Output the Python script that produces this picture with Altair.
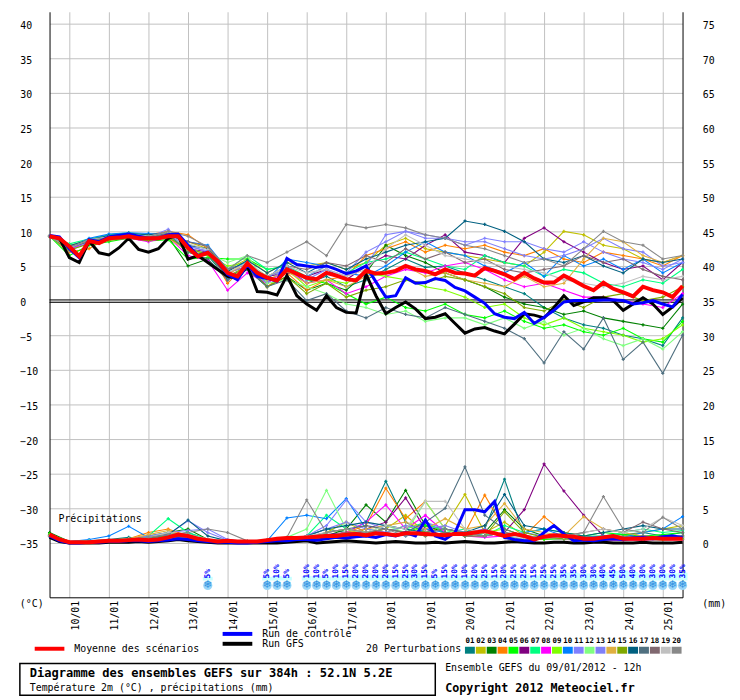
import altair as alt
import pandas as pd

FONT = "DejaVu Sans Mono"

# time axis (hours after 09/01/2012 12h)
hours6 = list(range(0, 385, 6))
hours12 = list(range(0, 385, 12))
day_ticks = [12, 36, 60, 84, 108, 132, 156, 180, 204, 228, 252, 276, 300, 324, 348, 372]
temp_ticks = [-35, -30, -25, -20, -15, -10, -5, 0, 5, 10, 15, 20, 25, 30, 35, 40]
zero_lines = [0.1, -0.25]

# ensemble mean, control run, GFS run (6h steps)
mean_t = [9.3, 9.0, 7.8, 6.4, 8.6, 8.3, 9.0, 9.1, 9.3, 9.0,
          9.0, 9.0, 9.3, 9.3, 7.6, 6.4, 6.9, 5.7, 4.0, 3.5,
          5.4, 4.0, 3.3, 2.9, 4.5, 3.9, 3.3, 3.1, 4.0, 3.6,
          3.1, 2.9, 4.3, 3.9, 4.0, 4.3, 5.0, 4.5, 4.3, 3.8,
          4.5, 4.0, 3.9, 3.6, 4.7, 4.3, 3.8, 3.1, 4.0, 3.2,
          2.6, 2.6, 3.6, 2.9, 2.1, 1.5, 2.6, 1.7, 1.2, 0.6,
          2.0, 1.5, 1.2, 0.5, 2.1]
ctrl_t = [9.4, 9.2, 7.5, 6.2, 8.8, 8.5, 9.2, 9.4, 9.6, 9.3,
          9.0, 9.0, 9.5, 9.6, 8.0, 6.5, 7.0, 5.5, 3.8, 3.0,
          5.2, 3.5, 3.2, 2.8, 6.1, 5.2, 5.0, 4.8, 5.0, 4.5,
          3.9, 4.3, 5.0, 2.7, 0.5, 0.7, 3.3, 2.5, 2.6, 3.2,
          2.9, 1.9, 1.4, 0.5, -0.4, -1.9, -2.4, -2.6, -1.7, -3.3,
          -2.4, -1.4, -0.2, 0.0, 0.0, 0.0, 0.1, 0.1, 0.0, -0.5,
          -0.3, 0.0, -0.5, -0.9, 0.9]
gfs_t = [9.3, 9.0, 6.2, 5.5, 8.6, 6.9, 6.6, 7.6, 9.0, 7.4,
         7.0, 7.5, 9.0, 9.5, 6.0, 6.5, 5.5, 4.5, 3.5, 3.2,
         5.0, 1.3, 1.2, 0.8, 3.6, 0.7, -0.5, -1.4, 0.7, -1.0,
         -1.7, -1.8, 3.8, 0.7, -1.9, -1.0, -0.2, -1.2, -2.6, -2.4,
         -1.9, -3.3, -4.7, -4.1, -3.9, -4.4, -4.8, -3.4, -1.9, -2.1,
         -2.5, -1.0, 0.7, -0.7, -0.2, 0.4, 0.4, 0.0, -1.4, -0.5,
         0.4, -0.5, -2.0, -0.9, 0.4]
mean_p = [1.2, 0.5, 0.1, 0.1, 0.1, 0.2, 0.3, 0.3, 0.4, 0.5,
          0.4, 0.5, 0.8, 1.2, 1.0, 0.6, 0.4, 0.2, 0.3, 0.2,
          0.2, 0.2, 0.4, 0.6, 0.7, 0.7, 0.8, 0.9, 1.0, 1.0,
          1.2, 1.3, 1.1, 1.4, 1.3, 1.1, 1.4, 1.4, 1.3, 1.2,
          1.1, 1.3, 1.3, 1.5, 1.7, 1.4, 1.0, 1.3, 1.0, 0.5,
          0.9, 1.1, 1.0, 0.9, 0.6, 0.6, 0.8, 1.0, 0.6, 0.6,
          0.6, 0.7, 0.6, 0.6, 0.6]
ctrl_p = [1.0, 0.3, 0.0, 0.0, 0.1, 0.1, 0.2, 0.2, 0.3, 0.3,
          0.2, 0.3, 0.4, 0.6, 0.5, 0.3, 0.2, 0.1, 0.1, 0.0,
          0.0, 0.1, 0.2, 0.3, 0.3, 0.5, 0.5, 0.4, 0.6, 0.8,
          0.7, 0.9, 1.0, 0.8, 1.2, 1.0, 1.5, 1.0, 3.3, 1.0,
          0.5, 1.5, 4.8, 4.8, 4.5, 6.0, 0.8, 0.5, 0.3, 0.3,
          1.5, 2.5, 1.3, 0.3, 0.4, 0.3, 0.5, 0.6, 0.5, 0.7,
          0.8, 0.6, 0.9, 1.0, 0.8]
gfs_p = [0.8, 0.2, 0.0, 0.0, 0.0, 0.0, 0.1, 0.1, 0.1, 0.2,
         0.1, 0.2, 0.3, 0.5, 0.3, 0.2, 0.1, 0.0, 0.0, 0.0,
         0.0, 0.0, 0.0, 0.0, 0.1, 0.2, 0.3, 0.0, 0.1, 0.2,
         0.3, 0.2, 0.1, 0.0, 0.1, 0.2, 0.1, 0.0, 0.0, 0.1,
         0.0, 0.1, 0.2, 0.1, 0.0, 0.0, 0.1, 0.2, 0.1, 0.0,
         0.0, 0.1, 0.1, 0.0, 0.0, 0.1, 0.1, 0.0, 0.0, 0.0,
         0.1, 0.0, 0.0, 0.0, 0.1]

# 20 perturbations (12h steps)
members = ["01", "02", "03", "04", "05", "06", "07", "08", "09", "10",
           "11", "12", "13", "14", "15", "16", "17", "18", "19", "20"]
member_colors = ["#008080", "#c0c000", "#008000", "#ff8000", "#00ff00",
                 "#800080", "#00ff80", "#ff00ff", "#80ff00", "#0080ff",
                 "#8080ff", "#80ff80", "#8080f8", "#e0b040", "#80a800",
                 "#006080", "#507080", "#806870", "#c0c0c0", "#888888"]

pert_t = {
    "01": [9.3, 7.4, 8.7, 9.3, 9.6, 9.2, 9.5, 7.0, 6.5, 3.2, 5.0, 2.5, 4.8, 2.5, 3.5, 2.0, 3.0, 4.5, 6.0, 4.8, 5.0, 4.0, 3.0, 2.0, 1.0, -1.0, -2.5, -3.5, -4.0, -5.0, -5.5, -6.5, -2.5],
    "02": [9.3, 7.8, 8.5, 9.0, 9.2, 8.8, 9.8, 8.5, 7.5, 4.5, 6.0, 4.0, 5.5, 5.0, 5.5, 4.5, 5.5, 8.0, 9.0, 7.5, 7.0, 6.5, 6.0, 5.5, 5.0, 7.0, 10.0, 9.5, 8.0, 7.5, 6.0, 5.5, 6.5],
    "03": [9.3, 8.0, 8.4, 8.9, 9.1, 9.0, 9.2, 5.0, 6.0, 3.0, 4.5, 2.0, 3.5, 1.5, 2.5, 1.5, 4.0, 8.0, 6.5, 5.5, 4.0, 3.0, 2.0, 0.5, -0.5, -1.0, -2.0, -1.5, -2.5, -3.0, -3.5, -4.0, -0.5],
    "04": [9.3, 7.0, 7.5, 9.2, 9.6, 9.5, 10.0, 9.5, 7.5, 2.5, 5.5, 2.0, 4.0, 1.5, 3.0, 3.5, 6.5, 7.5, 8.5, 7.0, 8.0, 7.5, 8.0, 7.0, 6.5, 7.5, 6.0, 5.5, 7.0, 6.5, 6.0, 5.0, 6.5],
    "05": [9.3, 6.5, 8.0, 8.5, 9.0, 8.6, 8.8, 6.0, 6.2, 6.0, 6.0, 4.5, 5.0, 3.0, 2.5, 1.0, -0.5, 0.5, -1.0, -1.5, -0.5, -2.0, -2.5, -1.5, -3.0, -4.0, -3.5, -4.5, -5.0, -4.0, -5.5, -6.0, -3.0],
    "06": [9.3, 7.6, 8.6, 9.1, 9.3, 8.9, 9.4, 7.5, 7.0, 4.0, 5.0, 3.5, 4.0, 3.5, 4.5, 3.0, 5.0, 6.5, 6.0, 8.0, 9.5, 7.0, 6.5, 5.5, 9.0, 10.5, 8.5, 7.0, 5.5, 4.5, 5.0, 3.0, 5.5],
    "07": [9.3, 8.2, 8.9, 9.5, 9.8, 9.4, 9.6, 7.0, 6.6, 4.5, 6.5, 4.5, 5.0, 3.5, 5.0, 4.0, 5.5, 6.0, 7.0, 6.0, 5.0, 4.5, 6.5, 5.5, 5.0, 3.5, 4.5, 4.0, 2.5, 2.0, 3.0, 2.5, 4.5],
    "08": [9.3, 7.5, 8.3, 8.8, 9.0, 8.5, 9.2, 6.5, 5.8, 1.5, 4.0, 2.5, 4.5, 2.5, 3.0, 1.0, 2.0, 3.5, 4.5, 4.0, 5.0, 5.5, 4.5, 3.0, 2.0, 2.5, 1.5, 0.5, 0.5, 0.0, -0.5, -1.0, 1.0],
    "09": [9.3, 7.9, 8.7, 9.0, 9.4, 9.1, 9.3, 7.0, 6.5, 5.0, 5.5, 3.5, 4.5, 2.0, 3.0, 2.5, 4.0, 3.5, 3.0, 2.0, 1.5, 0.5, -1.0, -0.5, -2.5, -3.5, -2.5, -4.0, -4.5, -5.0, -6.0, -5.5, -3.5],
    "10": [9.3, 7.7, 9.0, 9.6, 9.8, 9.7, 9.5, 8.5, 8.0, 4.5, 5.5, 3.0, 6.0, 5.5, 5.0, 4.0, 3.5, 5.0, 7.0, 8.5, 7.0, 6.5, 5.0, 4.0, 5.5, 3.5, 6.5, 5.0, 6.0, 4.5, 6.0, 4.0, 5.5],
    "11": [9.3, 7.2, 8.4, 9.0, 9.5, 9.2, 10.3, 8.0, 7.0, 3.0, 4.5, 2.5, 5.0, 3.0, 4.5, 3.5, 5.0, 9.5, 10.0, 9.0, 9.0, 8.0, 9.0, 8.5, 8.5, 7.5, 7.0, 8.5, 7.0, 6.0, 5.5, 4.5, 6.0],
    "12": [9.3, 8.0, 8.8, 9.2, 9.5, 9.0, 9.4, 7.5, 6.8, 5.5, 6.5, 2.5, 3.0, 2.0, 1.0, -0.5, -1.0, -2.0, -1.5, -3.0, -2.5, -2.5, -3.5, -2.5, -4.0, -3.0, -5.0, -4.0, -5.5, -6.5, -5.5, -7.0, -4.5],
    "13": [9.3, 7.6, 8.5, 9.3, 9.4, 9.0, 9.5, 7.8, 7.2, 4.0, 5.0, 3.5, 4.5, 3.5, 5.0, 4.0, 7.0, 8.5, 10.0, 9.5, 9.0, 8.5, 8.5, 7.5, 6.5, 6.0, 6.5, 7.5, 9.0, 7.5, 7.0, 5.0, 5.5],
    "14": [9.3, 7.8, 8.6, 9.0, 9.1, 8.8, 9.0, 7.2, 6.8, 3.8, 5.5, 3.0, 4.2, 2.5, 3.0, 2.0, 3.5, 4.0, 5.0, 3.5, 4.0, 3.0, 2.5, 2.0, 3.5, 2.0, 2.5, 6.0, 9.0, 8.5, 6.5, 5.5, 6.5],
    "15": [9.3, 7.3, 8.2, 8.7, 9.0, 8.7, 9.1, 7.5, 6.7, 3.5, 5.0, 2.0, 3.5, 1.0, 2.5, 0.5, 1.5, 2.0, 3.0, 2.5, 3.5, 3.0, 2.0, 1.0, -1.0, -1.5, 0.0, -1.0, 0.5, 1.0, 0.0, 0.5, 2.0],
    "16": [9.3, 7.9, 8.8, 9.4, 9.7, 9.5, 9.8, 8.0, 7.5, 4.2, 5.8, 4.0, 5.5, 4.0, 5.5, 4.5, 6.0, 7.0, 8.0, 8.5, 9.0, 11.5, 11.0, 10.0, 8.5, 6.0, 5.5, 6.5, 5.0, 4.0, 6.0, 5.5, 6.0],
    "17": [9.3, 7.7, 8.5, 9.1, 9.4, 9.1, 9.6, 7.0, 6.0, 3.0, 4.5, 2.0, 3.0, 0.0, 1.0, -1.5, -2.5, -1.0, -2.0, -2.5, -1.0, -2.0, -3.0, -4.0, -5.5, -9.0, -4.5, -7.0, -2.5, -8.5, -6.0, -10.5, -5.0],
    "18": [9.3, 7.8, 8.6, 9.0, 9.2, 9.0, 9.7, 8.5, 7.8, 4.5, 5.2, 3.5, 5.0, 4.5, 5.5, 5.0, 6.5, 5.5, 7.5, 6.0, 7.0, 5.5, 6.0, 4.5, 4.0, 4.5, 5.0, 6.5, 5.5, 6.0, 4.5, 3.5, 3.0],
    "19": [9.3, 7.6, 8.8, 9.2, 9.6, 9.3, 9.9, 8.2, 7.4, 4.0, 5.5, 3.5, 5.0, 4.0, 4.5, 3.5, 4.5, 7.5, 9.5, 8.0, 6.5, 6.0, 5.5, 5.0, 4.5, 4.0, 3.0, 2.5, 2.0, 2.5, 3.5, 3.0, 3.5],
    "20": [9.3, 7.7, 8.7, 9.1, 9.5, 9.2, 10.0, 9.3, 7.8, 4.5, 6.5, 5.5, 7.0, 8.5, 6.5, 11.0, 10.5, 11.0, 10.5, 9.5, 9.0, 8.0, 7.5, 6.5, 5.5, 6.0, 5.0, 7.5, 10.0, 8.5, 8.0, 6.0, 6.5],
}

pert_p = {
    "01": [1.0, 0.2, 0.3, 0.5, 0.8, 0.6, 1.0, 1.5, 0.5, 0.3, 0.2, 0.3, 0.5, 1.0, 2.0, 1.5, 3.0, 8.9, 3.0, 1.5, 2.0, 1.0, 2.0, 9.2, 1.0, 0.8, 0.5, 0.6, 1.0, 1.2, 1.5, 1.0, 1.5],
    "02": [1.2, 0.1, 0.2, 0.3, 0.5, 0.8, 1.0, 0.5, 0.3, 0.2, 0.1, 0.4, 0.6, 0.8, 1.5, 3.0, 1.5, 2.0, 4.0, 1.5, 2.5, 7.0, 1.5, 3.0, 1.0, 0.5, 1.5, 1.0, 0.8, 1.0, 1.5, 2.0, 2.5],
    "03": [1.5, 0.2, 0.2, 0.3, 0.5, 1.0, 1.5, 2.0, 0.5, 0.2, 0.1, 0.2, 0.4, 0.6, 1.0, 2.0, 5.5, 3.0, 7.6, 2.5, 1.5, 1.0, 1.5, 4.8, 2.0, 1.0, 0.5, 0.8, 0.5, 0.5, 1.0, 0.8, 1.0],
    "04": [1.0, 0.1, 0.3, 0.4, 0.6, 1.5, 2.0, 1.0, 0.4, 0.2, 0.2, 0.3, 0.5, 0.7, 1.0, 1.5, 2.5, 7.9, 3.5, 6.0, 2.0, 1.5, 6.9, 2.0, 1.0, 3.8, 1.5, 1.0, 0.7, 0.6, 0.8, 0.7, 0.8],
    "05": [1.3, 0.2, 0.2, 0.3, 0.4, 0.6, 1.0, 0.8, 0.3, 0.2, 0.1, 0.2, 0.3, 0.6, 0.8, 1.2, 1.5, 2.0, 1.5, 2.5, 2.0, 1.5, 1.0, 1.5, 0.8, 0.5, 0.6, 1.0, 1.5, 1.2, 1.0, 1.2, 1.5],
    "06": [1.0, 0.1, 0.2, 0.3, 0.5, 0.5, 0.8, 0.6, 0.3, 0.2, 0.2, 0.3, 0.4, 0.8, 1.2, 1.5, 2.0, 3.0, 6.5, 2.0, 1.0, 1.5, 1.0, 1.5, 4.8, 11.4, 7.5, 4.0, 1.0, 0.5, 0.4, 0.5, 0.5],
    "07": [1.2, 0.2, 0.3, 0.4, 0.6, 1.0, 3.5, 1.5, 0.5, 0.3, 0.2, 0.4, 0.6, 1.0, 4.0, 2.0, 1.5, 2.5, 2.0, 3.0, 1.5, 2.0, 1.0, 2.5, 1.5, 2.0, 1.5, 1.0, 1.0, 1.5, 2.0, 1.5, 1.8],
    "08": [1.0, 0.1, 0.2, 0.2, 0.4, 0.8, 1.2, 0.8, 0.3, 0.2, 0.1, 0.2, 0.3, 0.5, 1.0, 1.5, 3.0, 5.5, 2.0, 4.0, 1.5, 1.0, 0.8, 1.0, 0.5, 0.8, 0.5, 0.4, 0.3, 0.4, 0.5, 0.4, 0.5],
    "09": [1.1, 0.2, 0.2, 0.3, 0.5, 0.8, 1.5, 1.0, 0.4, 0.2, 0.1, 0.2, 0.4, 0.7, 1.5, 2.0, 1.0, 1.5, 2.5, 1.5, 2.0, 1.0, 1.5, 2.0, 1.0, 0.8, 1.0, 0.6, 0.5, 0.7, 0.8, 0.6, 0.8],
    "10": [1.0, 0.2, 0.5, 1.0, 2.4, 0.8, 1.0, 1.2, 0.5, 0.3, 0.2, 0.3, 3.6, 4.0, 3.5, 6.4, 2.0, 1.5, 1.0, 2.0, 1.5, 1.0, 1.5, 1.0, 1.5, 2.0, 1.0, 0.8, 1.0, 0.8, 1.5, 2.0, 3.8],
    "11": [1.0, 0.1, 0.2, 0.3, 0.6, 1.0, 1.5, 1.8, 2.0, 0.5, 0.2, 0.3, 0.5, 1.0, 2.5, 6.2, 3.0, 2.0, 1.5, 3.0, 2.0, 1.5, 2.0, 1.0, 1.5, 1.0, 0.8, 0.6, 0.8, 0.7, 1.0, 0.8, 1.0],
    "12": [1.0, 0.2, 0.3, 0.3, 0.5, 0.8, 1.0, 0.8, 0.4, 0.2, 0.1, 0.3, 0.8, 2.0, 7.6, 2.0, 1.5, 2.5, 1.5, 6.0, 2.0, 1.0, 1.5, 1.0, 0.5, 0.8, 0.5, 0.4, 0.6, 0.5, 0.5, 0.4, 0.6],
    "13": [1.0, 0.1, 0.2, 0.4, 0.5, 0.7, 1.2, 3.2, 1.5, 0.4, 0.2, 0.3, 0.5, 1.0, 2.0, 3.0, 2.0, 1.5, 2.5, 2.0, 2.5, 1.5, 1.0, 1.5, 1.0, 0.8, 0.7, 0.6, 0.7, 0.8, 1.0, 0.7, 0.8],
    "14": [1.1, 0.2, 0.2, 0.3, 0.6, 1.2, 1.8, 1.0, 0.4, 0.2, 0.1, 0.2, 0.4, 0.6, 1.0, 1.5, 2.0, 2.5, 3.0, 2.0, 3.5, 2.0, 2.5, 5.7, 2.0, 1.5, 1.0, 3.8, 2.0, 1.5, 1.0, 0.8, 1.0],
    "15": [1.2, 0.2, 0.2, 0.3, 0.5, 0.7, 1.0, 1.2, 0.4, 0.2, 0.1, 0.2, 0.3, 0.5, 0.8, 1.0, 1.5, 2.0, 1.5, 1.0, 1.5, 1.0, 1.0, 4.5, 1.5, 0.8, 0.6, 0.5, 0.4, 0.5, 0.6, 0.5, 0.6],
    "16": [1.0, 0.1, 0.2, 0.3, 0.5, 0.8, 1.2, 3.3, 1.0, 0.3, 0.2, 0.3, 0.5, 1.0, 2.0, 2.5, 3.0, 2.5, 2.0, 1.5, 2.0, 1.5, 2.5, 7.0, 2.5, 2.0, 1.5, 1.0, 1.5, 2.0, 2.5, 2.0, 2.0],
    "17": [1.0, 0.1, 0.2, 0.3, 0.4, 0.6, 0.8, 1.0, 0.5, 0.3, 0.2, 0.3, 0.4, 0.8, 1.5, 2.0, 2.5, 2.0, 1.5, 3.0, 5.0, 11.0, 4.0, 2.0, 1.0, 0.8, 1.0, 0.8, 0.6, 0.8, 1.0, 0.8, 1.0],
    "18": [1.0, 0.1, 0.2, 0.3, 0.4, 0.6, 0.9, 0.8, 0.4, 0.2, 0.1, 0.2, 0.4, 0.6, 1.0, 1.5, 1.5, 2.0, 1.5, 1.0, 1.5, 1.0, 1.0, 1.5, 1.0, 0.8, 1.0, 1.5, 2.0, 1.5, 3.0, 2.0, 1.5],
    "19": [1.0, 0.1, 0.2, 0.3, 0.5, 0.8, 1.5, 1.2, 0.6, 0.3, 0.2, 0.3, 0.5, 1.0, 1.5, 2.0, 1.5, 2.5, 2.0, 6.0, 6.0, 2.0, 1.5, 1.0, 0.8, 1.0, 0.8, 1.5, 2.0, 1.5, 2.0, 3.7, 2.5],
    "20": [1.0, 0.1, 0.2, 0.3, 0.5, 0.8, 1.2, 1.5, 2.0, 1.5, 0.3, 0.4, 0.8, 6.2, 1.5, 2.0, 1.5, 2.0, 1.0, 1.5, 2.0, 1.5, 1.0, 1.5, 1.0, 0.8, 1.0, 1.5, 6.7, 2.0, 1.5, 3.7, 2.0],
}

# snow probability (hour, percent)
snow_h = [96, 132, 138, 144, 156, 162, 168, 174, 180, 186, 192, 198, 204, 210,
          216, 222, 228, 234, 240, 246, 252, 258, 264, 270, 276, 282, 288, 294,
          300, 306, 312, 318, 324, 330, 336, 342, 348, 354, 360, 366, 372, 378, 384]
snow_pct = [5, 5, 10, 5, 10, 10, 5, 10, 15, 20, 20, 20, 20, 15,
            25, 30, 15, 5, 15, 20, 10, 20, 25, 15, 20, 25, 25, 15,
            25, 25, 35, 35, 30, 30, 40, 45, 50, 40, 30, 30, 30, 30, 35]

# ---------------------------------------------------------------- tables
rows = []
for m in members:
    for h, t in zip(hours12, pert_t[m]):
        rows.append({"h": h, "v": t, "member": m, "grp": m + "t"})
    for h, p in zip(hours12, pert_p[m]):
        rows.append({"h": h, "v": -35 + p, "member": m, "grp": m + "p"})
pert_df = pd.DataFrame(rows)


def run_df(t, p):
    r = [{"h": h, "v": v, "grp": "t"} for h, v in zip(hours6, t)]
    r += [{"h": h, "v": -35 + v, "grp": "p"} for h, v in zip(hours6, p)]
    return pd.DataFrame(r)


mean_df = run_df(mean_t, mean_p)
ctrl_df = run_df(ctrl_t, ctrl_p)
gfs_df = run_df(gfs_t, gfs_p)
snow_df = pd.DataFrame({"h": snow_h, "pct": snow_pct})
legend_df = pd.DataFrame({"member": members, "i": list(range(len(members)))})

xscale = alt.Scale(domain=[0, 384], nice=False, zero=False)
yscale = alt.Scale(domain=[-42.857, 41.714], nice=False, zero=False)
cscale = alt.Scale(domain=members, range=member_colors)


def X(f="h"):
    return alt.X(f + ":Q", scale=xscale, axis=None)


def Y(f="v"):
    return alt.Y(f + ":Q", scale=yscale, axis=None)


x_main = alt.X("h:Q", scale=xscale, axis=alt.Axis(
    values=day_ticks, labelExpr="((datum.value - 12) / 24 + 10) + '/01'",
    grid=True, orient="bottom", labelAngle=270, labelAlign="right",
    labelBaseline="middle", labelPadding=3, labelOffset=6, title=None))
y_left = alt.Y("v:Q", scale=yscale, axis=alt.Axis(
    values=temp_ticks, grid=True, orient="left", labelAlign="left",
    labelBaseline="middle", labelPadding=30, labelOffset=2, title=None))
y_right = alt.Y("v:Q", scale=yscale, axis=alt.Axis(
    values=temp_ticks, grid=False, orient="right", labelAlign="left",
    labelBaseline="middle", labelExpr="datum.value + 35", labelPadding=20,
    labelOffset=2, title=None))

layers = []
layers.append(alt.Chart(mean_df).mark_point(opacity=0).encode(x=x_main, y=y_left))
layers.append(alt.Chart(mean_df).mark_point(opacity=0).encode(x=X(), y=y_right))
layers.append(alt.Chart(pd.DataFrame({"v": zero_lines})).mark_rule(
    color="black", strokeWidth=1).encode(y=Y()))
layers.append(alt.Chart(pert_df).mark_line(
    strokeWidth=1.1,
    point=alt.OverlayMarkDef(shape="cross", filled=True, size=10)).encode(
    x=X(), y=Y(), color=alt.Color("member:N", scale=cscale, legend=None),
    detail="grp:N"))
layers.append(alt.Chart(gfs_df).mark_line(color="black", strokeWidth=3).encode(
    x=X(), y=Y(), detail="grp:N"))
layers.append(alt.Chart(ctrl_df).mark_line(color="#0000ff", strokeWidth=3).encode(
    x=X(), y=Y(), detail="grp:N"))
layers.append(alt.Chart(mean_df).mark_line(color="#ff0000", strokeWidth=4).encode(
    x=X(), y=Y(), detail="grp:N"))

# snow strip
snow_base = alt.Chart(snow_df).transform_calculate(
    h1="datum.h - 3", h2="datum.h + 3", yb="-40.43",
    yt="-40.43 + (3 + datum.pct / 7) / 7", yi="-41.14", yl="-40.14",
    lab="datum.pct + '%'")
layers.append(snow_base.mark_rect(color="#c8ffff").encode(
    x=X("h1"), x2="h2:Q", y=Y("yb"), y2="yt:Q"))
layers.append(snow_base.mark_point(shape="circle", filled=True, size=85,
                                   color="#9ad6f8", opacity=1).encode(x=X(), y=Y("yi")))
layers.append(snow_base.mark_text(text="❄", fontSize=11, color="#2f90e0",
                                  font="DejaVu Sans").encode(x=X(), y=Y("yi")))
layers.append(snow_base.mark_text(angle=270, align="left", baseline="middle",
                                  fontSize=8, fontWeight="bold", color="#0000ff").encode(
    x=X(), y=Y("yl"), text="lab:N"))


def label(txt, x, y, size=10, bold=False, color="black"):
    return alt.Chart(pd.DataFrame({"t": [txt]})).mark_text(
        align="left", baseline="middle", fontSize=size,
        fontWeight="bold" if bold else "normal", color=color).encode(
        x=alt.value(x), y=alt.value(y), text="t:N")


def legend_rule(x1, x2, y, color):
    return alt.Chart(pd.DataFrame({"a": [0]})).mark_rule(
        color=color, strokeWidth=4).encode(
        x=alt.value(x1), x2=alt.value(x2), y=alt.value(y))


layers += [
    label("Précipitations", 9, 513),
    label("(°C)", -30, 599),
    label("(mm)", 660, 599),
    legend_rule(-15, 15, 644, "#ff0000"),
    label("Moyenne des scénarios", 25, 644),
    legend_rule(175, 205, 629, "#0000ff"),
    label("Run de contrôle", 215, 629),
    legend_rule(175, 205, 639, "black"),
    label("Run GFS", 215, 639),
    label("20 Perturbations", 320, 644),
    label("Ensemble GEFS du 09/01/2012 - 12h", 400, 664),
    label("Copyright 2012 Meteociel.fr", 400, 684, size=11.8, bold=True),
]

layers.append(alt.Chart(pd.DataFrame({"a": [0]})).mark_rect(
    filled=False, fillOpacity=0, stroke="black", strokeWidth=1.5).encode(
    x=alt.value(-30), x2=alt.value(390), y=alt.value(659), y2=alt.value(691)))
layers.append(label("Diagramme des ensembles GEFS sur 384h : 52.1N 5.2E", -20, 669,
                    size=12.2, bold=True))
layers.append(label("Température 2m (°C) , précipitations (mm)", -20, 684))

leg_base = alt.Chart(legend_df).transform_calculate(
    px="420 + 11 * datum.i", px2="430 + 11 * datum.i", pc="425 + 11 * datum.i")
layers.append(leg_base.mark_rect().encode(
    x=alt.X("px:Q", scale=None, axis=None), x2="px2:Q",
    y=alt.value(642), y2=alt.value(649),
    color=alt.Color("member:N", scale=cscale, legend=None)))
layers.append(leg_base.mark_text(fontSize=7.5, fontWeight="bold", baseline="middle").encode(
    x=alt.X("pc:Q", scale=None, axis=None), y=alt.value(636.5), text="member:N"))

chart = alt.layer(*layers).resolve_axis(x="independent", y="independent").properties(
    width=640, height=592,
    padding={"left": 42, "top": 0, "right": 50, "bottom": 100},
    autosize=alt.AutoSizeParams(type="none"),
).configure_view(stroke=None).configure_axis(
    labelFont=FONT, labelFontSize=10, labelColor="black", domainColor="black",
    domainWidth=1, gridColor="#c0c0c0", gridWidth=1, ticks=False, tickSize=0,
).configure_text(font=FONT)

chart.save("out.html", embed_options={"renderer": "svg", "actions": False})
